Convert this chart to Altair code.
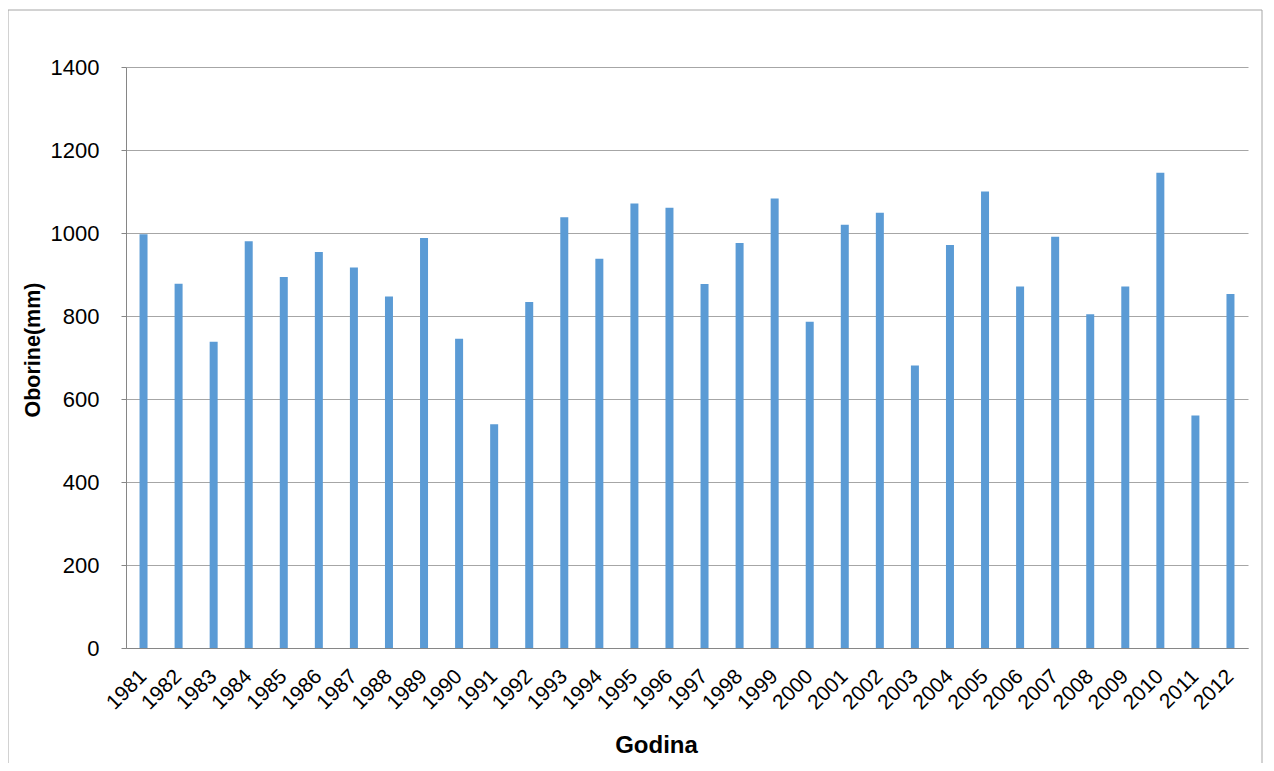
import altair as alt
import pandas as pd

years = [str(y) for y in range(1981, 2013)]
values = [997, 878, 738, 980, 894, 954, 917, 847, 988, 745, 539,
          834, 1038, 938, 1071, 1061, 877, 976, 1083, 786, 1020,
          1049, 681, 971, 1100, 871, 991, 804, 871, 1145, 560, 853]
y_ticks = [0, 200, 400, 600, 800, 1000, 1200, 1400]

df = pd.DataFrame({"Godina": years, "Oborine": values})

W, H = 1122, 581
FONT = "Liberation Sans"

bars = alt.Chart(df).mark_bar(color="#5B9BD5", size=8).encode(
    x=alt.X("Godina:N", sort=years,
            scale=alt.Scale(paddingInner=0, paddingOuter=0),
            axis=alt.Axis(title="Godina", labelAngle=-45, labelAlign="right",
                          labelBaseline="middle", labelPadding=25, tickSize=0,
                          domainColor="#868686", labelFontSize=21,
                          titleFontSize=24, titleFontWeight="bold",
                          titleX=530, titleY=97, titleBaseline="middle")),
    y=alt.Y("Oborine:Q",
            scale=alt.Scale(domain=[0, 1400], nice=False),
            axis=alt.Axis(title="Oborine(mm)", values=y_ticks, format="d",
                          tickSize=5,
                          tickColor="#868686", domainColor="#868686",
                          gridColor="#A6A6A6", labelFontSize=22, labelPadding=22,
                          titleFontSize=21.5, titleFontWeight="bold",
                          titleX=-93, titleY=H / 2 - 8, titleAngle=-90,
                          titleBaseline="middle", titleAlign="center")),
)

border = alt.Chart(pd.DataFrame({"a": [0]})).mark_rect(
    fill=None, stroke="#A6A6A6", strokeWidth=1, clip=False
).encode(
    x=alt.value(-118), x2=alt.value(W + 14),
    y=alt.value(-57), y2=alt.value(H + 120),
)

chart = alt.layer(border, bars).properties(
    width=W, height=H,
    autosize=alt.AutoSizeParams(type="none"),
    padding={"left": 118, "top": 59, "right": 18, "bottom": 115},
).configure_axis(
    labelFont=FONT, titleFont=FONT, labelColor="#000000", titleColor="#000000",
    gridOpacity=1, domainOpacity=1,
).configure_axisX(grid=False).configure_view(stroke=None)

chart.save("out.html", embed_options={"renderer": "svg", "actions": False})
